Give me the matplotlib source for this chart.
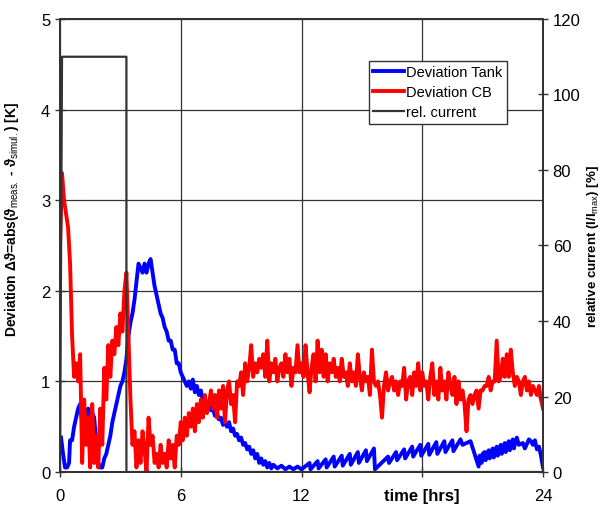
import numpy as np
import matplotlib.pyplot as plt

plt.rcParams['font.family'] = ['Liberation Sans', 'DejaVu Sans']
plt.rcParams['mathtext.fontset'] = 'custom'
plt.rcParams['mathtext.rm'] = 'Liberation Sans'
plt.rcParams['mathtext.bf'] = 'Liberation Sans:bold'

# deviation CB, sampled every 0.1 h from 0 to 24 h
red_t = np.round(np.arange(0, 24.01, 0.1), 1)
red_v = [2.5, 3.3, 3.0, 2.85, 2.7, 2.3, 1.5, 1.05, 1.2, 1.0,
         1.3, 0.1, 0.8, 0.3, 0.6, 0.05, 0.75, 0.1, 0.4, 0.05,
         0.7, 0.3, 1.15, 0.8, 1.4, 1.05, 1.45, 1.3, 1.6, 1.4,
         1.75, 1.55, 2.0, 2.2, 1.5, 0.8, 0.3, 0.45, 0.05, 0.35,
         0.1, 0.45, 0.25, 0.0, 0.6, 0.3, 0.4, 0.1, 0.2, 0.05,
         0.3, 0.1, 0.2, 0.05, 0.35, 0.15, 0.3, 0.05, 0.4, 0.3,
         0.55, 0.35, 0.6, 0.4, 0.65, 0.5, 0.7, 0.45, 0.75, 0.55,
         0.8, 0.6, 0.85, 0.65, 0.75, 0.9, 0.7, 0.85, 0.6, 0.9,
         0.7, 0.95, 0.55, 0.9, 1.0, 0.75, 0.85, 0.55, 1.0, 0.95,
         1.1, 0.85, 1.2, 1.0, 1.15, 1.4, 1.05, 1.2, 1.1, 1.25,
         1.15, 1.3, 1.05, 1.45, 1.0, 1.2, 1.1, 1.25, 1.0, 1.15,
         1.2, 1.05, 1.3, 1.1, 1.25, 0.95, 1.15, 1.1, 1.4, 1.1,
         1.2, 1.05, 1.4, 1.1, 0.88, 1.15, 1.3, 1.0, 1.45, 1.1,
         1.35, 1.05, 1.3, 1.0, 1.2, 1.1, 1.25, 1.05, 1.15, 1.0,
         1.25, 1.05, 1.1, 0.95, 1.2, 1.0, 1.1, 0.95, 1.3, 1.05,
         0.9, 1.1, 1.0, 1.05, 0.85, 1.35, 1.0, 0.95, 1.0, 0.85,
         0.6, 0.95, 1.1, 0.9, 1.0, 1.05, 0.9, 1.0, 0.85, 1.0,
         0.95, 1.15, 0.8, 1.0, 1.05, 0.85, 1.1, 0.95, 1.2, 0.9,
         1.1, 0.95, 1.0, 0.8, 1.05, 1.2, 0.85, 1.0, 0.8, 1.15,
         0.9, 1.0, 0.8, 1.1, 0.95, 0.85, 1.05, 0.75, 1.0, 0.8,
         0.9, 0.75, 0.45, 0.8, 0.85, 0.75, 0.85, 0.9, 0.7, 0.9,
         0.9, 0.95, 0.95, 1.05, 0.9, 1.0, 1.0, 1.45, 1.0, 1.05,
         1.25, 1.05, 1.3, 1.05, 1.35, 1.1, 0.95, 1.05, 1.0, 0.85,
         1.0, 1.05, 0.9, 1.0, 0.85, 0.95, 0.9, 0.85, 0.95, 0.8,
         0.7]

# deviation tank
blue_t = [0.05, 0.15, 0.25, 0.35, 0.45, 0.5, 0.6, 0.7, 0.8, 0.9,
          1.0, 1.1, 1.2, 1.3, 1.4, 1.5, 1.6, 1.7, 1.8, 1.9,
          2.0, 2.1, 2.2, 2.3, 2.4, 2.5, 2.6, 2.7, 2.8, 2.9,
          3.0, 3.1, 3.2, 3.3, 3.4, 3.5, 3.6, 3.7, 3.8, 3.9,
          4.0, 4.1, 4.2, 4.3, 4.4, 4.5, 4.6, 4.7, 4.8, 4.9,
          5.0, 5.1, 5.2, 5.3, 5.4, 5.5, 5.6, 5.7, 5.8, 5.9,
          6.0, 6.1, 6.2, 6.3, 6.4, 6.5, 6.6, 6.7, 6.8, 6.9,
          7.0, 7.1, 7.2, 7.3, 7.4, 7.5, 7.6, 7.7, 7.8, 7.9,
          8.0, 8.1, 8.2, 8.3, 8.4, 8.5, 8.6, 8.7, 8.8, 8.9,
          9.0, 9.1, 9.2, 9.3, 9.4, 9.5, 9.6, 9.7, 9.8, 9.9,
          10.0, 10.1, 10.2, 10.3, 10.4, 10.5, 10.6, 10.8, 11.0, 11.2,
          11.4, 11.6, 11.8, 12.0, 12.4, 12.45, 12.8, 12.85, 13.2, 13.25,
          13.6, 13.65, 14.0, 14.05, 14.4, 14.45, 14.8, 14.85, 15.2, 15.25,
          15.6, 15.65, 16.3, 16.35, 16.7, 16.75, 17.1, 17.15, 17.5, 17.55,
          17.9, 17.95, 18.3, 18.35, 18.7, 18.75, 19.1, 19.15, 19.5, 19.55,
          19.9, 20.0, 20.4, 20.8, 20.85, 20.95, 21.0, 21.1, 21.15, 21.3,
          21.35, 21.5, 21.55, 21.7, 21.75, 21.9, 21.95, 22.1, 22.15, 22.3,
          22.35, 22.5, 22.55, 22.7, 22.8, 23.0, 23.1, 23.3, 23.4, 23.5,
          23.6, 23.7, 23.8, 23.9, 24.0]
blue_v = [0.38, 0.2, 0.05, 0.05, 0.1, 0.35, 0.35, 0.5, 0.6, 0.7,
          0.75, 0.55, 0.65, 0.6, 0.7, 0.5, 0.65, 0.6, 0.3, 0.1,
          0.05, 0.05, 0.15, 0.2, 0.3, 0.4, 0.55, 0.65, 0.75, 0.85,
          0.95, 1.0, 1.1, 1.25, 1.5, 1.65, 1.75, 1.9, 2.1, 2.3,
          2.25, 2.2, 2.3, 2.2, 2.3, 2.35, 2.2, 2.05, 1.95, 1.85,
          1.75, 1.7, 1.6, 1.55, 1.45, 1.45, 1.35, 1.35, 1.2, 1.2,
          1.1, 1.05, 1.0, 0.95, 1.0, 0.92, 1.02, 0.88, 0.95, 0.85,
          0.9, 0.78, 0.8, 0.72, 0.75, 0.68, 0.7, 0.62, 0.65, 0.58,
          0.6, 0.52, 0.55, 0.5, 0.55, 0.45, 0.48, 0.4, 0.42, 0.35,
          0.38, 0.3, 0.32, 0.25, 0.28, 0.2, 0.24, 0.15, 0.2, 0.1,
          0.15, 0.08, 0.12, 0.05, 0.1, 0.04, 0.08, 0.04, 0.07, 0.03,
          0.06, 0.03, 0.06, 0.03, 0.1, 0.03, 0.12, 0.04, 0.14, 0.05,
          0.17, 0.06, 0.18, 0.07, 0.2, 0.08, 0.22, 0.1, 0.24, 0.12,
          0.26, 0.03, 0.17, 0.1, 0.22, 0.13, 0.25, 0.15, 0.28, 0.17,
          0.3, 0.18, 0.31, 0.19, 0.33, 0.2, 0.34, 0.22, 0.35, 0.23,
          0.36, 0.3, 0.34, 0.06, 0.18, 0.1, 0.2, 0.22, 0.13, 0.24,
          0.15, 0.26, 0.16, 0.28, 0.18, 0.3, 0.2, 0.32, 0.22, 0.34,
          0.24, 0.36, 0.26, 0.38, 0.3, 0.32, 0.26, 0.36, 0.34, 0.3,
          0.35, 0.25, 0.28, 0.18, 0.05]

# relative current in %
cur_t = [0.0, 0.1, 3.3, 3.3, 24.0]
cur_v = [0, 110, 110, 0, 0]

fig = plt.figure(figsize=(6.05, 5.06), dpi=100)
ax = fig.add_axes([0.0992, 0.0652, 0.7983, 0.8953])

ln1, = ax.plot(blue_t, blue_v, color='#0000ff', lw=2.8, label='Deviation Tank')
ln2, = ax.plot(red_t, red_v, color='#ff0000', lw=2.8, label='Deviation CB')
ax.set_xlim(0, 24)
ax.set_ylim(0, 5)
ax.set_xticks([0, 6, 12, 18, 24])
ax.set_xticklabels(['0', '6', '12', 'time [hrs]', '24'])
ax.get_xticklabels()[3].set_fontweight('bold')
ax.get_xticklabels()[3].set_fontsize(11)
ax.set_yticks([0, 1, 2, 3, 4, 5])
ax.grid(True, color='#333333', lw=0.9)
ax.set_axisbelow(True)
ax.tick_params(labelsize=12, direction='inout', length=7, width=1, color='#333333')
ax.tick_params(axis='x', pad=8)
ax.set_ylabel('Deviation Δϑ=abs(ϑ$_{\\mathrm{meas.}}$ - ϑ$_{\\mathrm{simul.}}$) [K]',
              fontweight='bold', fontsize=10)
ax.yaxis.set_label_coords(-0.081, 0.56)
for s in ax.spines.values():
    s.set_color('#333333')
    s.set_linewidth(1.4)

ax2 = ax.twinx()
ln3, = ax2.plot(cur_t, cur_v, color='#333333', lw=1.6, label='rel. current')
ax2.set_ylim(0, 120)
ax2.set_yticks([0, 20, 40, 60, 80, 100, 120])
ax2.tick_params(labelsize=12, direction='inout', length=7, width=1, color='#333333')
ax2.set_ylabel('relative current (I/I$_{\\mathrm{max}}$) [%]', fontweight='bold', fontsize=9.5)
ax2.yaxis.set_label_coords(1.088, 0.5)
for s in ax2.spines.values():
    s.set_color('#333333')
    s.set_linewidth(1.4)

leg = ax2.legend(handles=[ln1, ln2, ln3], loc='upper right', bbox_to_anchor=(0.925, 0.907),
                 fontsize=10.5, fancybox=False, framealpha=1, edgecolor='#333333',
                 borderpad=0.3, labelspacing=0.4, handlelength=2.1, handletextpad=0.15,
                 borderaxespad=0)
leg.get_frame().set_linewidth(1.0)

fig.savefig('out.png', dpi=100)
